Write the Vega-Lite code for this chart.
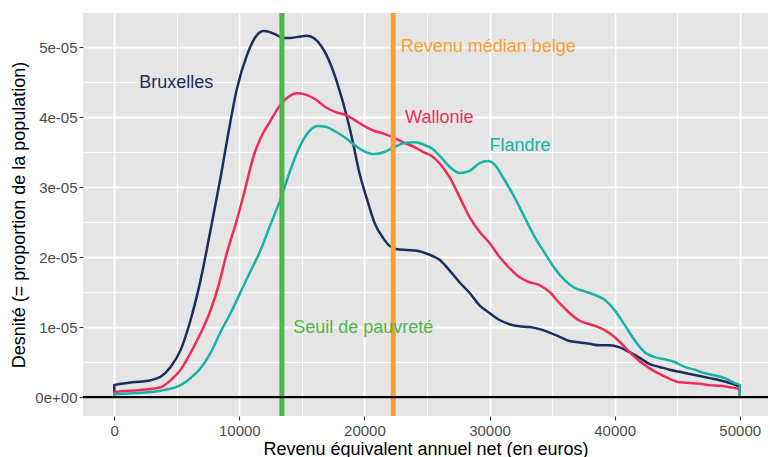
{
  "$schema": "https://vega.github.io/schema/vega-lite/v6.json",
  "width": 685,
  "height": 403,
  "autosize": {"type": "none"},
  "padding": {"left": 83, "top": 13, "right": 0, "bottom": 41},
  "background": "white",
  "config": {"view": {"fill": "#e5e5e5", "stroke": null}, "font": "Liberation Sans"},
  "datasets": {
    "dens": [
      {"r":"Bruxelles","i":0,"x":0,"y":0},
      {"r":"Bruxelles","i":1,"x":0,"y":0.17e-5},
      {"r":"Bruxelles","i":2,"x":1500,"y":0.21e-5},
      {"r":"Bruxelles","i":3,"x":2900,"y":0.24e-5},
      {"r":"Bruxelles","i":4,"x":3700,"y":0.29e-5},
      {"r":"Bruxelles","i":5,"x":4500,"y":0.43e-5},
      {"r":"Bruxelles","i":6,"x":5300,"y":0.67e-5},
      {"r":"Bruxelles","i":7,"x":6100,"y":1.1e-5},
      {"r":"Bruxelles","i":8,"x":6900,"y":1.67e-5},
      {"r":"Bruxelles","i":9,"x":7700,"y":2.39e-5},
      {"r":"Bruxelles","i":10,"x":8500,"y":3.14e-5},
      {"r":"Bruxelles","i":11,"x":9100,"y":3.75e-5},
      {"r":"Bruxelles","i":12,"x":9800,"y":4.4e-5},
      {"r":"Bruxelles","i":13,"x":10600,"y":4.88e-5},
      {"r":"Bruxelles","i":14,"x":11400,"y":5.17e-5},
      {"r":"Bruxelles","i":15,"x":11900,"y":5.23e-5},
      {"r":"Bruxelles","i":16,"x":12500,"y":5.21e-5},
      {"r":"Bruxelles","i":17,"x":13000,"y":5.17e-5},
      {"r":"Bruxelles","i":18,"x":13500,"y":5.13e-5},
      {"r":"Bruxelles","i":19,"x":14100,"y":5.13e-5},
      {"r":"Bruxelles","i":20,"x":14900,"y":5.15e-5},
      {"r":"Bruxelles","i":21,"x":15400,"y":5.16e-5},
      {"r":"Bruxelles","i":22,"x":16000,"y":5.12e-5},
      {"r":"Bruxelles","i":23,"x":16600,"y":5.0e-5},
      {"r":"Bruxelles","i":24,"x":17300,"y":4.75e-5},
      {"r":"Bruxelles","i":25,"x":17800,"y":4.5e-5},
      {"r":"Bruxelles","i":26,"x":18600,"y":4.0e-5},
      {"r":"Bruxelles","i":27,"x":19000,"y":3.7e-5},
      {"r":"Bruxelles","i":28,"x":19600,"y":3.2e-5},
      {"r":"Bruxelles","i":29,"x":20300,"y":2.77e-5},
      {"r":"Bruxelles","i":30,"x":20800,"y":2.49e-5},
      {"r":"Bruxelles","i":31,"x":21500,"y":2.27e-5},
      {"r":"Bruxelles","i":32,"x":22000,"y":2.16e-5},
      {"r":"Bruxelles","i":33,"x":22600,"y":2.11e-5},
      {"r":"Bruxelles","i":34,"x":23400,"y":2.1e-5},
      {"r":"Bruxelles","i":35,"x":24200,"y":2.09e-5},
      {"r":"Bruxelles","i":36,"x":25100,"y":2.04e-5},
      {"r":"Bruxelles","i":37,"x":26000,"y":1.96e-5},
      {"r":"Bruxelles","i":38,"x":26800,"y":1.81e-5},
      {"r":"Bruxelles","i":39,"x":27600,"y":1.64e-5},
      {"r":"Bruxelles","i":40,"x":28400,"y":1.49e-5},
      {"r":"Bruxelles","i":41,"x":29200,"y":1.31e-5},
      {"r":"Bruxelles","i":42,"x":30000,"y":1.2e-5},
      {"r":"Bruxelles","i":43,"x":30800,"y":1.1e-5},
      {"r":"Bruxelles","i":44,"x":31600,"y":1.04e-5},
      {"r":"Bruxelles","i":45,"x":32400,"y":1.01e-5},
      {"r":"Bruxelles","i":46,"x":33200,"y":1.0e-5},
      {"r":"Bruxelles","i":47,"x":34000,"y":0.97e-5},
      {"r":"Bruxelles","i":48,"x":34800,"y":0.92e-5},
      {"r":"Bruxelles","i":49,"x":35600,"y":0.86e-5},
      {"r":"Bruxelles","i":50,"x":36400,"y":0.8e-5},
      {"r":"Bruxelles","i":51,"x":37200,"y":0.78e-5},
      {"r":"Bruxelles","i":52,"x":38000,"y":0.76e-5},
      {"r":"Bruxelles","i":53,"x":38800,"y":0.74e-5},
      {"r":"Bruxelles","i":54,"x":39600,"y":0.74e-5},
      {"r":"Bruxelles","i":55,"x":40400,"y":0.71e-5},
      {"r":"Bruxelles","i":56,"x":41200,"y":0.64e-5},
      {"r":"Bruxelles","i":57,"x":42000,"y":0.56e-5},
      {"r":"Bruxelles","i":58,"x":42800,"y":0.47e-5},
      {"r":"Bruxelles","i":59,"x":43600,"y":0.43e-5},
      {"r":"Bruxelles","i":60,"x":44400,"y":0.39e-5},
      {"r":"Bruxelles","i":61,"x":45200,"y":0.36e-5},
      {"r":"Bruxelles","i":62,"x":46000,"y":0.33e-5},
      {"r":"Bruxelles","i":63,"x":46800,"y":0.3e-5},
      {"r":"Bruxelles","i":64,"x":47600,"y":0.27e-5},
      {"r":"Bruxelles","i":65,"x":48400,"y":0.24e-5},
      {"r":"Bruxelles","i":66,"x":49200,"y":0.2e-5},
      {"r":"Bruxelles","i":67,"x":50000,"y":0.14e-5},
      {"r":"Bruxelles","i":68,"x":50000,"y":0},
      {"r":"Wallonie","i":100,"x":0,"y":0},
      {"r":"Wallonie","i":101,"x":0,"y":0.07e-5},
      {"r":"Wallonie","i":102,"x":2100,"y":0.1e-5},
      {"r":"Wallonie","i":103,"x":3700,"y":0.14e-5},
      {"r":"Wallonie","i":104,"x":4500,"y":0.24e-5},
      {"r":"Wallonie","i":105,"x":5300,"y":0.39e-5},
      {"r":"Wallonie","i":106,"x":6100,"y":0.63e-5},
      {"r":"Wallonie","i":107,"x":6900,"y":0.91e-5},
      {"r":"Wallonie","i":108,"x":7700,"y":1.24e-5},
      {"r":"Wallonie","i":109,"x":8300,"y":1.57e-5},
      {"r":"Wallonie","i":110,"x":9000,"y":2.06e-5},
      {"r":"Wallonie","i":111,"x":9800,"y":2.53e-5},
      {"r":"Wallonie","i":112,"x":10500,"y":3.0e-5},
      {"r":"Wallonie","i":113,"x":11100,"y":3.42e-5},
      {"r":"Wallonie","i":114,"x":11700,"y":3.7e-5},
      {"r":"Wallonie","i":115,"x":12500,"y":3.95e-5},
      {"r":"Wallonie","i":116,"x":13300,"y":4.18e-5},
      {"r":"Wallonie","i":117,"x":14100,"y":4.31e-5},
      {"r":"Wallonie","i":118,"x":14600,"y":4.34e-5},
      {"r":"Wallonie","i":119,"x":15300,"y":4.32e-5},
      {"r":"Wallonie","i":120,"x":16100,"y":4.25e-5},
      {"r":"Wallonie","i":121,"x":16900,"y":4.14e-5},
      {"r":"Wallonie","i":122,"x":17700,"y":4.07e-5},
      {"r":"Wallonie","i":123,"x":18500,"y":4.03e-5},
      {"r":"Wallonie","i":124,"x":19200,"y":3.96e-5},
      {"r":"Wallonie","i":125,"x":20000,"y":3.87e-5},
      {"r":"Wallonie","i":126,"x":20800,"y":3.8e-5},
      {"r":"Wallonie","i":127,"x":21600,"y":3.76e-5},
      {"r":"Wallonie","i":128,"x":22400,"y":3.7e-5},
      {"r":"Wallonie","i":129,"x":23200,"y":3.63e-5},
      {"r":"Wallonie","i":130,"x":24000,"y":3.57e-5},
      {"r":"Wallonie","i":131,"x":24800,"y":3.49e-5},
      {"r":"Wallonie","i":132,"x":25400,"y":3.44e-5},
      {"r":"Wallonie","i":133,"x":26000,"y":3.34e-5},
      {"r":"Wallonie","i":134,"x":26800,"y":3.14e-5},
      {"r":"Wallonie","i":135,"x":27600,"y":2.86e-5},
      {"r":"Wallonie","i":136,"x":28400,"y":2.57e-5},
      {"r":"Wallonie","i":137,"x":29200,"y":2.36e-5},
      {"r":"Wallonie","i":138,"x":30000,"y":2.2e-5},
      {"r":"Wallonie","i":139,"x":30800,"y":2.0e-5},
      {"r":"Wallonie","i":140,"x":31600,"y":1.84e-5},
      {"r":"Wallonie","i":141,"x":32400,"y":1.71e-5},
      {"r":"Wallonie","i":142,"x":33200,"y":1.64e-5},
      {"r":"Wallonie","i":143,"x":34000,"y":1.6e-5},
      {"r":"Wallonie","i":144,"x":34800,"y":1.5e-5},
      {"r":"Wallonie","i":145,"x":35600,"y":1.34e-5},
      {"r":"Wallonie","i":146,"x":36400,"y":1.2e-5},
      {"r":"Wallonie","i":147,"x":37200,"y":1.09e-5},
      {"r":"Wallonie","i":148,"x":38000,"y":1.04e-5},
      {"r":"Wallonie","i":149,"x":38800,"y":0.99e-5},
      {"r":"Wallonie","i":150,"x":39600,"y":0.91e-5},
      {"r":"Wallonie","i":151,"x":40400,"y":0.79e-5},
      {"r":"Wallonie","i":152,"x":41200,"y":0.64e-5},
      {"r":"Wallonie","i":153,"x":42000,"y":0.51e-5},
      {"r":"Wallonie","i":154,"x":42800,"y":0.41e-5},
      {"r":"Wallonie","i":155,"x":43600,"y":0.33e-5},
      {"r":"Wallonie","i":156,"x":44400,"y":0.26e-5},
      {"r":"Wallonie","i":157,"x":45200,"y":0.21e-5},
      {"r":"Wallonie","i":158,"x":46000,"y":0.2e-5},
      {"r":"Wallonie","i":159,"x":46800,"y":0.19e-5},
      {"r":"Wallonie","i":160,"x":47600,"y":0.17e-5},
      {"r":"Wallonie","i":161,"x":48400,"y":0.16e-5},
      {"r":"Wallonie","i":162,"x":49200,"y":0.14e-5},
      {"r":"Wallonie","i":163,"x":50000,"y":0.11e-5},
      {"r":"Wallonie","i":164,"x":50000,"y":0},
      {"r":"Flandre","i":200,"x":0,"y":0},
      {"r":"Flandre","i":201,"x":0,"y":0.04e-5},
      {"r":"Flandre","i":202,"x":2100,"y":0.06e-5},
      {"r":"Flandre","i":203,"x":3700,"y":0.09e-5},
      {"r":"Flandre","i":204,"x":5300,"y":0.17e-5},
      {"r":"Flandre","i":205,"x":6100,"y":0.27e-5},
      {"r":"Flandre","i":206,"x":6900,"y":0.41e-5},
      {"r":"Flandre","i":207,"x":7700,"y":0.63e-5},
      {"r":"Flandre","i":208,"x":8500,"y":0.93e-5},
      {"r":"Flandre","i":209,"x":9300,"y":1.2e-5},
      {"r":"Flandre","i":210,"x":10100,"y":1.5e-5},
      {"r":"Flandre","i":211,"x":10900,"y":1.8e-5},
      {"r":"Flandre","i":212,"x":11700,"y":2.1e-5},
      {"r":"Flandre","i":213,"x":12500,"y":2.47e-5},
      {"r":"Flandre","i":214,"x":13300,"y":2.83e-5},
      {"r":"Flandre","i":215,"x":14000,"y":3.2e-5},
      {"r":"Flandre","i":216,"x":14700,"y":3.53e-5},
      {"r":"Flandre","i":217,"x":15600,"y":3.8e-5},
      {"r":"Flandre","i":218,"x":16300,"y":3.87e-5},
      {"r":"Flandre","i":219,"x":16900,"y":3.86e-5},
      {"r":"Flandre","i":220,"x":17700,"y":3.79e-5},
      {"r":"Flandre","i":221,"x":18500,"y":3.7e-5},
      {"r":"Flandre","i":222,"x":19200,"y":3.6e-5},
      {"r":"Flandre","i":223,"x":20000,"y":3.51e-5},
      {"r":"Flandre","i":224,"x":20800,"y":3.47e-5},
      {"r":"Flandre","i":225,"x":21600,"y":3.5e-5},
      {"r":"Flandre","i":226,"x":22400,"y":3.57e-5},
      {"r":"Flandre","i":227,"x":23200,"y":3.63e-5},
      {"r":"Flandre","i":228,"x":24000,"y":3.64e-5},
      {"r":"Flandre","i":229,"x":24800,"y":3.6e-5},
      {"r":"Flandre","i":230,"x":25400,"y":3.55e-5},
      {"r":"Flandre","i":231,"x":26000,"y":3.45e-5},
      {"r":"Flandre","i":232,"x":26800,"y":3.29e-5},
      {"r":"Flandre","i":233,"x":27600,"y":3.2e-5},
      {"r":"Flandre","i":234,"x":28400,"y":3.23e-5},
      {"r":"Flandre","i":235,"x":29200,"y":3.34e-5},
      {"r":"Flandre","i":236,"x":29900,"y":3.37e-5},
      {"r":"Flandre","i":237,"x":30400,"y":3.32e-5},
      {"r":"Flandre","i":238,"x":31200,"y":3.1e-5},
      {"r":"Flandre","i":239,"x":32000,"y":2.85e-5},
      {"r":"Flandre","i":240,"x":32800,"y":2.57e-5},
      {"r":"Flandre","i":241,"x":33600,"y":2.29e-5},
      {"r":"Flandre","i":242,"x":34400,"y":2.06e-5},
      {"r":"Flandre","i":243,"x":35200,"y":1.84e-5},
      {"r":"Flandre","i":244,"x":36000,"y":1.67e-5},
      {"r":"Flandre","i":245,"x":36800,"y":1.56e-5},
      {"r":"Flandre","i":246,"x":37600,"y":1.51e-5},
      {"r":"Flandre","i":247,"x":38400,"y":1.46e-5},
      {"r":"Flandre","i":248,"x":39200,"y":1.39e-5},
      {"r":"Flandre","i":249,"x":40000,"y":1.24e-5},
      {"r":"Flandre","i":250,"x":40800,"y":1.03e-5},
      {"r":"Flandre","i":251,"x":41600,"y":0.81e-5},
      {"r":"Flandre","i":252,"x":42400,"y":0.64e-5},
      {"r":"Flandre","i":253,"x":43200,"y":0.57e-5},
      {"r":"Flandre","i":254,"x":44000,"y":0.54e-5},
      {"r":"Flandre","i":255,"x":44800,"y":0.5e-5},
      {"r":"Flandre","i":256,"x":45600,"y":0.43e-5},
      {"r":"Flandre","i":257,"x":46400,"y":0.39e-5},
      {"r":"Flandre","i":258,"x":47200,"y":0.34e-5},
      {"r":"Flandre","i":259,"x":48000,"y":0.31e-5},
      {"r":"Flandre","i":260,"x":48800,"y":0.27e-5},
      {"r":"Flandre","i":261,"x":49600,"y":0.2e-5},
      {"r":"Flandre","i":262,"x":50000,"y":0.17e-5},
      {"r":"Flandre","i":263,"x":50000,"y":0}
    ],
    "vlines": [
      {"r":"Seuil de pauvreté","x":13400},
      {"r":"Revenu médian belge","x":22300}
    ],
    "labels": [
      {"r":"Bruxelles","x":2000,"y":4.49e-5},
      {"r":"Revenu médian belge","x":22900,"y":5.0e-5},
      {"r":"Wallonie","x":23250,"y":3.99e-5},
      {"r":"Flandre","x":30000,"y":3.59e-5},
      {"r":"Seuil de pauvreté","x":14300,"y":0.99e-5}
    ],
    "zero": [{"y":0}]
  },
  "layer": [
    {
      "data": {"name": "dens"},
      "mark": {"type": "line", "strokeWidth": 2.5, "clip": true, "interpolate": "monotone"},
      "encoding": {
        "x": {
          "field": "x", "type": "quantitative",
          "scale": {"domain": [-2500, 52260], "nice": false, "zero": false},
          "axis": {
            "title": "Revenu équivalent annuel net (en euros)",
            "values": [0,5000,10000,15000,20000,25000,30000,35000,40000,45000,50000],
            "labelExpr": "datum.value % 10000 === 0 ? format(datum.value, 'd') : ''",
            "labelOverlap": false,
            "labelFlush": false,
            "domain": false,
            "gridColor": "white",
            "gridWidth": {"condition": {"test": "datum.value % 10000 === 0", "value": 1.8}, "value": 0.9},
            "tickOpacity": {"condition": {"test": "datum.value % 10000 === 0", "value": 1}, "value": 0},
            "tickColor": "#333333",
            "tickSize": 4,
            "tickWidth": 1.1,
            "labelColor": "#4d4d4d",
            "labelFontSize": 15,
            "labelPadding": 3,
            "titleFontSize": 18,
            "titleFontWeight": "normal",
            "titleColor": "black",
            "titlePadding": 2
          }
        },
        "y": {
          "field": "y", "type": "quantitative",
          "scale": {"domain": [-2.71e-6, 5.486e-5], "nice": false, "zero": false},
          "axis": {
            "title": "Desnité (= proportion de la population)",
            "values": [0,0.5e-5,1e-5,1.5e-5,2e-5,2.5e-5,3e-5,3.5e-5,4e-5,4.5e-5,5e-5],
            "labelExpr": "abs(datum.value*1e5 - round(datum.value*1e5)) < 0.1 ? (datum.value == 0 ? '0e+00' : round(datum.value*1e5) + 'e-05') : ''",
            "labelOverlap": false,
            "labelFlush": false,
            "domain": false,
            "gridColor": "white",
            "gridWidth": {"condition": {"test": "abs(datum.value*1e5 - round(datum.value*1e5)) < 0.1", "value": 1.8}, "value": 0.9},
            "tickOpacity": {"condition": {"test": "abs(datum.value*1e5 - round(datum.value*1e5)) < 0.1", "value": 1}, "value": 0},
            "tickColor": "#333333",
            "tickSize": 4,
            "tickWidth": 1.1,
            "labelColor": "#4d4d4d",
            "labelFontSize": 15,
            "labelPadding": 2,
            "titleFontSize": 18,
            "titleFontWeight": "normal",
            "titleColor": "black",
            "titlePadding": 6
          }
        },
        "color": {
          "field": "r", "type": "nominal",
          "scale": {
            "domain": ["Bruxelles","Wallonie","Flandre","Seuil de pauvreté","Revenu médian belge"],
            "range": ["#1c2f5c","#ee2c5c","#18b2a4","#4db748","#f8a031"]
          },
          "legend": null
        },
        "order": {"field": "i", "type": "quantitative"}
      }
    },
    {
      "data": {"name": "vlines"},
      "mark": {"type": "rule", "strokeWidth": 5},
      "encoding": {
        "x": {"field": "x", "type": "quantitative"},
        "color": {"field": "r", "type": "nominal", "legend": null}
      }
    },
    {
      "data": {"name": "zero"},
      "mark": {"type": "rule", "strokeWidth": 2.2, "color": "black"},
      "encoding": {
        "y": {"field": "y", "type": "quantitative"}
      }
    },
    {
      "data": {"name": "labels"},
      "mark": {"type": "text", "align": "left", "baseline": "middle", "fontSize": 18},
      "encoding": {
        "x": {"field": "x", "type": "quantitative"},
        "y": {"field": "y", "type": "quantitative"},
        "text": {"field": "r"},
        "color": {"field": "r", "type": "nominal", "legend": null}
      }
    }
  ]
}
